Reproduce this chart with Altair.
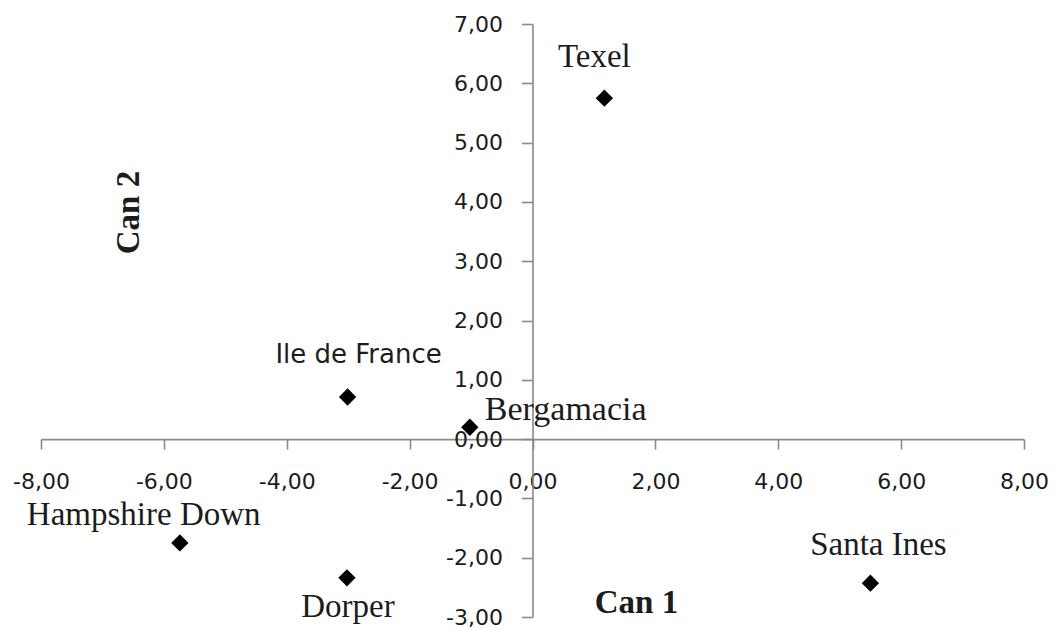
import altair as alt
import pandas as pd

# Canonical discriminant scores per sheep breed
breeds = ["Texel", "Ile de France", "Bergamacia", "Hampshire Down", "Dorper", "Santa Ines"]
can1 = [1.17, -3.01, -1.02, -5.74, -3.02, 5.50]
can2 = [5.75, 0.71, 0.20, -1.75, -2.34, -2.43]

x_ticks = [-8, -6, -4, -2, 0, 2, 4, 6, 8]
y_ticks = [-3, -2, -1, 0, 1, 2, 3, 4, 5, 6, 7]

df = pd.DataFrame({"breed": breeds, "can1": can1, "can2": can2})

W, H = 983, 593
X_DOM = [x_ticks[0], x_ticks[-1]]
Y_DOM = [y_ticks[0], y_ticks[-1]]

# axes cross at the origin: shift them inward by the pixel distance to zero
x_off = -H * (0 - Y_DOM[0]) / (Y_DOM[1] - Y_DOM[0])
y_off = -W * (0 - X_DOM[0]) / (X_DOM[1] - X_DOM[0])

AXIS_GREY = "#8a8a8a"
TEXT = "#1c1c1c"
SERIF = "Liberation Serif"
SANS = "DejaVu Sans"

comma_fmt = "(datum.value < 0 ? '-' : '') + replace(format(abs(datum.value), '.2f'), '.', ',')"

x_enc = alt.X(
    "can1:Q",
    scale=alt.Scale(domain=X_DOM, nice=False, zero=False),
    axis=alt.Axis(
        values=x_ticks, labelExpr=comma_fmt, offset=x_off, grid=False,
        tickSize=10, labelPadding=22, labelFlush=False, labelOverlap=False,
        title="Can 1", titleX=595, titleY=173, titleAlign="center",
        titleBaseline="alphabetic", titleFont=SERIF, titleFontSize=33,
        titleFontWeight="bold", titleColor=TEXT,
    ),
)
y_enc = alt.Y(
    "can2:Q",
    scale=alt.Scale(domain=Y_DOM, nice=False, zero=False),
    axis=alt.Axis(
        values=y_ticks, labelExpr=comma_fmt, offset=y_off, grid=False,
        tickSize=11, labelPadding=19, labelFlush=False, labelOverlap=False,
        title="Can 2", titleX=-404, titleY=188, titleAngle=270,
        titleAlign="center", titleBaseline="middle", titleFont=SERIF,
        titleFontSize=33, titleFontWeight="bold", titleColor=TEXT,
    ),
)

base = alt.Chart(df).encode(x=x_enc, y=y_enc)

points = base.mark_point(shape="diamond", filled=True, size=300, color="#000000", opacity=1)

# label placement around each marker
label_style = {
    "Texel": dict(align="center", dx=-10, dy=-31, font=SERIF, fontSize=33),
    "Ile de France": dict(align="center", dx=11, dy=-34, font=SANS, fontSize=26),
    "Bergamacia": dict(align="left", dx=15, dy=-7, font=SERIF, fontSize=34),
    # the long name is cut off by its label box
    "Hampshire Down": dict(align="left", dx=-153, dy=-18, font=SERIF, fontSize=33,
                           limit=236, ellipsis="\u200b"),
    "Dorper": dict(align="center", dx=1, dy=39, font=SERIF, fontSize=33),
    "Santa Ines": dict(align="center", dx=8, dy=-28, font=SERIF, fontSize=33),
}

labels = [
    base.transform_filter(alt.datum.breed == name)
    .mark_text(baseline="alphabetic", color=TEXT, **style)
    .encode(text="breed:N")
    for name, style in label_style.items()
]

chart = (
    alt.layer(points, *labels)
    .properties(
        width=W, height=H,
        autosize=alt.AutoSizeParams(type="none"),
        padding={"left": 41, "top": 24, "right": 31, "bottom": 12},
        background="white",
    )
    .configure_view(stroke=None)
    .configure_axis(
        domainColor=AXIS_GREY, domainWidth=1.6, tickColor=AXIS_GREY, tickWidth=1.6,
        labelFont=SANS, labelFontSize=22, labelColor=TEXT,
    )
)

chart.save("out.html", embed_options={"renderer": "svg", "actions": False})
